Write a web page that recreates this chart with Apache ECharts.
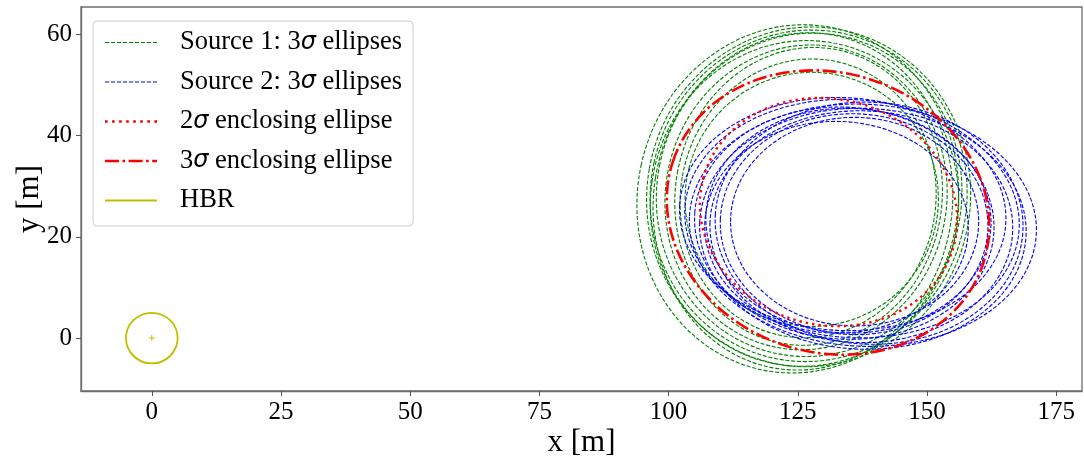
<!DOCTYPE html>
<html>
<head>
<meta charset="utf-8">
<script src="https://cdn.jsdelivr.net/npm/echarts@6/dist/echarts.min.js"></script>
<style>
  html, body { margin: 0; padding: 0; background: #fff; }
  #chart { width: 1084px; height: 460px; }
</style>
</head>
<body>
<div id="chart"></div>
<script>
// Axis extents and tick labels
const xRange = [-13.7, 180];
const yRange = [-10.45, 65.4];
const xTicks = [0, 25, 50, 75, 100, 125, 150, 175];
const yTicks = [0, 20, 40, 60];

// Each ellipse: [centre x, centre y, semi-axis 1, semi-axis 2, rotation (deg, counter-clockwise)]
const source1Ellipses = [
  [125.0, 27.5, 31.0, 34.5, -12],
  [127.1, 27.9, 31.3, 33.6, -10],
  [127.1, 28.1, 30.6, 32.8, -12],
  [126.0, 27.0, 28.9, 33.4, -9],
  [126.3, 26.6, 29.8, 32.2, -8],
  [127.2, 28.3, 29.5, 32.0, -11],
  [126.6, 27.8, 27.2, 30.2, -12],
  [127.1, 28.0, 25.8, 29.5, -10],
  [127.0, 27.6, 24.7, 27.6, -10],
  [127.7, 27.4, 24.5, 25.1, -14]
];
const source2Ellipses = [
  [137.6, 22.3, 33.6, 23.9, -3],
  [137.6, 21.6, 31.6, 23.8, -2],
  [135.5, 23.6, 32.4, 23.5, -4],
  [137.3, 22.0, 29.3, 22.9, -1],
  [133.7, 24.5, 31.6, 23.0, -3],
  [135.9, 22.5, 25.9, 21.8, -2],
  [136.0, 23.0, 24.0, 20.6, 0],
  [134.0, 22.7, 29.0, 22.9, -4],
  [132.5, 21.9, 25.5, 20.9, -1],
  [138.8, 22.7, 29.8, 23.9, -3],
  [134.8, 23.2, 27.6, 22.2, -2]
];
const enclosing2Sigma = [[130.95, 24.9, 25.1, 22.3, -15]];
const enclosing3Sigma = [[130.85, 24.8, 31.6, 27.6, -18]];
// Hard-body radius circle: [centre x, centre y, radius]
const hbrCircle = [[0, 0, 5]];

const names = [
  'Source 1: 3σ ellipses',
  'Source 2: 3σ ellipses',
  '2σ enclosing ellipse',
  '3σ enclosing ellipse',
  'HBR'
];

const GREEN = '#008000', BLUE = '#0000ff', RED = '#ff0000', OLIVE = '#bfbf00';
const SERIF = 'Liberation Serif, Times New Roman, serif';
const FRAME = '#6e6e6e';

// Draws one ellipse per data item, positioned and sized through the cartesian axes
function ellipseRenderer(stroke, lineWidth, lineDash) {
  return function (params, api) {
    const c = api.coord([api.value(0), api.value(1)]);
    const s = api.size([api.value(2), api.value(3)]);
    return {
      type: 'ellipse',
      x: c[0],
      y: c[1],
      rotation: api.value(4) * Math.PI / 180,
      shape: { cx: 0, cy: 0, rx: Math.abs(s[0]), ry: Math.abs(s[1]) },
      style: { fill: 'none', stroke: stroke, lineWidth: lineWidth, lineDash: lineDash }
    };
  };
}

function hbrRenderer(params, api) {
  const c = api.coord([api.value(0), api.value(1)]);
  const s = api.size([api.value(2), api.value(2)]);
  const m = 3;
  return {
    type: 'group',
    children: [
      { type: 'ellipse', shape: { cx: c[0], cy: c[1], rx: Math.abs(s[0]), ry: Math.abs(s[1]) },
        style: { fill: 'none', stroke: OLIVE, lineWidth: 1.8 } },
      { type: 'line', shape: { x1: c[0] - m, y1: c[1], x2: c[0] + m, y2: c[1] },
        style: { stroke: OLIVE, lineWidth: 1 } },
      { type: 'line', shape: { x1: c[0], y1: c[1] - m, x2: c[0], y2: c[1] + m },
        style: { stroke: OLIVE, lineWidth: 1 } }
    ]
  };
}

// Legend sample: a row of filled dashes drawn as an SVG path
function dashIcon(pattern, thick, len) {
  let d = '';
  let x = 0, i = 0;
  while (x < len - 0.5) {
    const seg = pattern[i % pattern.length];
    if (i % 2 === 0) {
      const w = Math.min(seg, len - x);
      d += 'M' + x.toFixed(2) + ' 0h' + w.toFixed(2) + 'v' + thick + 'h-' + w.toFixed(2) + 'z';
    }
    x += seg;
    i++;
  }
  return 'path://' + d;
}

const DASH = [4, 1.8];
const DOT = [2.4, 4.0];
const DASHDOT = [14, 3.5, 2.6, 3.5];

function customSeries(name, data, renderItem, color, z) {
  return {
    type: 'custom',
    name: name,
    data: data,
    renderItem: renderItem,
    itemStyle: { color: color },
    encode: { x: 0, y: 1 },
    silent: true,
    z: z
  };
}

function axisCommon(range, ticks, name) {
  return {
    type: 'value',
    min: range[0], max: range[1],
    name: name,
    nameLocation: 'middle',
    nameMoveOverlap: false,
    nameTextStyle: { fontFamily: SERIF, fontSize: 31, color: '#000' },
    axisLine: { show: true, onZero: false, lineStyle: { color: FRAME, width: 1.3 } },
    axisTick: { show: true, customValues: ticks, length: 5, lineStyle: { color: '#555', width: 1 } },
    axisLabel: { customValues: ticks, margin: 9, fontFamily: SERIF, fontSize: 25, color: '#000' },
    splitLine: { show: false }
  };
}

const chart = echarts.init(document.getElementById('chart'), null, { renderer: 'canvas' });

const xAxis = axisCommon(xRange, xTicks, 'x [m]');
xAxis.nameGap = 36;
const yAxis = axisCommon(yRange, yTicks, 'y [m]');
yAxis.nameGap = 36;

chart.setOption({
  animation: false,
  backgroundColor: '#ffffff',
  grid: {
    left: 81, right: 2, top: 7, bottom: 69,
    outerBoundsMode: 'none',
    containLabel: false,
    show: true, borderColor: FRAME, borderWidth: 1.3
  },
  xAxis: xAxis,
  yAxis: yAxis,
  legend: {
    orient: 'vertical',
    left: 93,
    top: 21,
    padding: [8, 11, 12, 12],
    itemWidth: 52,
    itemHeight: 14,
    itemGap: 12.5,
    selectedMode: false,
    backgroundColor: 'rgba(255,255,255,0.8)',
    borderColor: '#cccccc',
    borderWidth: 1,
    borderRadius: 4,
    itemStyle: { borderWidth: 0 },
    textStyle: {
      fontFamily: SERIF, fontSize: 26.5, color: '#000', lineHeight: 27,
      padding: [0, 0, 0, 18],
      rich: {
        s: { fontFamily: 'DejaVu Sans', fontStyle: 'italic', fontSize: 24, color: '#000', lineHeight: 27 }
      }
    },
    formatter: function (name) { return name.replace('σ', '{s|σ}'); },
    data: [
      { name: names[0], icon: dashIcon(DASH, 1.2, 52), itemStyle: { color: GREEN, borderWidth: 0 } },
      { name: names[1], icon: dashIcon(DASH, 1.2, 52), itemStyle: { color: BLUE, borderWidth: 0 } },
      { name: names[2], icon: dashIcon(DOT, 2.4, 50), itemStyle: { color: RED, borderWidth: 0 } },
      { name: names[3], icon: dashIcon(DASHDOT, 2.6, 52), itemStyle: { color: RED, borderWidth: 0 } },
      { name: names[4], icon: dashIcon([52, 0], 1.8, 52), itemStyle: { color: OLIVE, borderWidth: 0 } }
    ]
  },
  series: [
    customSeries(names[0], source1Ellipses, ellipseRenderer(GREEN, 1.1, DASH), GREEN, 2),
    customSeries(names[1], source2Ellipses, ellipseRenderer(BLUE, 1.1, DASH), BLUE, 3),
    customSeries(names[2], enclosing2Sigma, ellipseRenderer(RED, 2.4, DOT), RED, 4),
    customSeries(names[3], enclosing3Sigma, ellipseRenderer(RED, 2.6, DASHDOT), RED, 5),
    customSeries(names[4], hbrCircle, hbrRenderer, OLIVE, 6)
  ]
});
</script>
</body>
</html>
